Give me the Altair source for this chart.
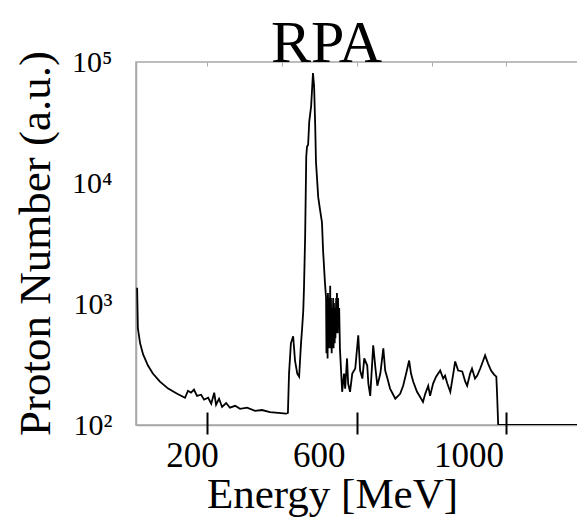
import altair as alt
import pandas as pd

# ---- data ----
energy = [13, 15, 21, 29, 42, 55, 74, 96, 120, 141,
          149, 157, 165, 173, 184, 192, 203, 211, 219, 224,
          232, 240, 251, 261, 275, 288, 307, 328, 347, 368,
          390, 411, 416,
          419, 424, 430, 435, 441, 446, 451, 454, 457, 459,
          462, 465, 467, 470, 473, 478, 483, 486, 489, 491,
          497, 502, 507, 510, 515,
          518, 519, 521, 522, 523, 525, 526, 527, 529, 530,
          531, 533, 534, 535, 537, 538, 539, 541, 542, 543,
          545, 546, 547, 549, 550, 551, 553, 555,
          561, 566, 569, 574, 577, 582, 588, 596, 604, 609,
          615, 620, 628, 631, 636, 644, 650, 655, 663, 671,
          676, 682, 689, 703, 716, 724, 732, 740, 745, 751,
          761, 769, 777, 783, 791, 796, 804, 812, 823, 831,
          836, 842, 850, 858, 863, 871, 882, 890, 895, 903,
          908, 916, 922, 930, 938, 943, 951, 959, 967, 973,
          975, 978, 1210]
counts = [1360, 631, 473, 383, 310, 266, 228, 200, 181, 168,
          192, 185, 196, 174, 178, 162, 168, 150, 185, 147,
          165, 141, 152, 139, 144, 136, 139, 131, 133, 128,
          126, 124, 126,
          266, 473, 541, 341, 266, 251, 473, 631, 874, 1360,
          3550, 16500, 19950, 20700, 32200, 43000, 81000, 63100, 29300, 15000,
          7640, 5960, 4730, 2770, 1500,
          1122, 391, 1020, 355, 1235, 430, 1122, 473, 1413, 430,
          1122, 391, 926, 473, 1122, 430, 1020, 473, 926, 521,
          1122, 573, 1235, 573, 1122, 695, 926, 430,
          188, 266, 200, 355, 220, 188, 266, 293, 552, 282,
          242, 355, 310, 220, 174, 455, 293, 211, 266, 430,
          282, 242, 200, 165, 181, 211, 266, 341, 266, 228,
          188, 171, 155, 181, 211, 174, 220, 251, 282, 242,
          256, 220, 188, 266, 335, 282, 277, 228, 211, 266,
          293, 242, 256, 293, 341, 376, 322, 282, 261, 251,
          181, 100, 100]

x_tick_values = [200, 600, 1000]
x_minor_values = [200, 400, 600, 800, 1000, 1200]
y_tick_values = [100, 1000, 10000, 100000]
y_tick_labels = ["10²", "10³", "10⁴", "10⁵"]
title_text = "RPA"
x_title = "Energy [MeV]"
y_title = "Proton Number (a.u.)"

df = pd.DataFrame({"E": energy, "N": counts})

FONT = "Liberation Serif"
GRAY = "#a8a8a8"

label_expr = " : ".join(
    f"datum.value == {v} ? '{t}'" for v, t in zip(y_tick_values, y_tick_labels)
) + " : ''"

xscale = alt.Scale(domain=[10, 1210], nice=False, zero=False)
yscale = alt.Scale(type="log", domain=[100, 100000], nice=False)

line = alt.Chart(df).mark_line(color="black", strokeWidth=1.8, clip=True).encode(
    x=alt.X("E:Q", scale=xscale,
            axis=alt.Axis(orient="bottom", values=x_tick_values, ticks=False, grid=False,
                          domainColor=GRAY, domainWidth=1.5, format="d",
                          labelFontSize=35, labelPadding=41,
                          labelBaseline="alphabetic",
                          labelOffset={"condition": {"test": "datum.value == 200", "value": -15},
                                       "value": -38},
                          title=x_title, titleFontSize=43,
                          titleX=196, titleY=82, titleBaseline="alphabetic")),
    y=alt.Y("N:Q", scale=yscale,
            axis=alt.Axis(values=y_tick_values, labelExpr=label_expr, ticks=False,
                          grid=False, domainColor=GRAY, domainWidth=1.5,
                          labelFontSize=30, labelPadding=24,
                          title=y_title, titleFontSize=45,
                          titleX=-78, titleY=181, titleBaseline="bottom")),
)

ticks_layer = alt.Chart(df).mark_point(opacity=0).encode(
    x=alt.X("E:Q", scale=xscale,
            axis=alt.Axis(orient="bottom", values=x_tick_values, labels=False, domain=False,
                          grid=False, title=None, tickSize=22, tickWidth=2,
                          tickColor="black", offset=-13)),
)

top_layer = alt.Chart(df).mark_point(opacity=0).encode(
    x=alt.X("E:Q", scale=xscale,
            axis=alt.Axis(orient="top", values=x_minor_values, labels=False, domain=False,
                          grid=False, title=None, tickSize=4, tickColor=GRAY, offset=-4)),
)

chart = alt.layer(line, ticks_layer, top_layer).resolve_axis(x="independent").properties(
    width=449,
    height=363,
    title=alt.TitleParams(title_text, font=FONT, fontSize=60, fontWeight="normal",
                          color="black", anchor="middle", frame="group", dx=-34,
                          offset=-75, baseline="alphabetic"),
    autosize=alt.AutoSizeParams(type="none"),
    padding={"left": 128, "top": 54, "right": -8, "bottom": 92},
    background="white",
).configure_view(stroke=GRAY, strokeWidth=1.5).configure_axis(
    labelFont=FONT, titleFont=FONT, labelColor="black", titleColor="black",
    titleFontWeight="normal"
)

chart.save("out.html", embed_options={"renderer": "svg", "actions": False})
